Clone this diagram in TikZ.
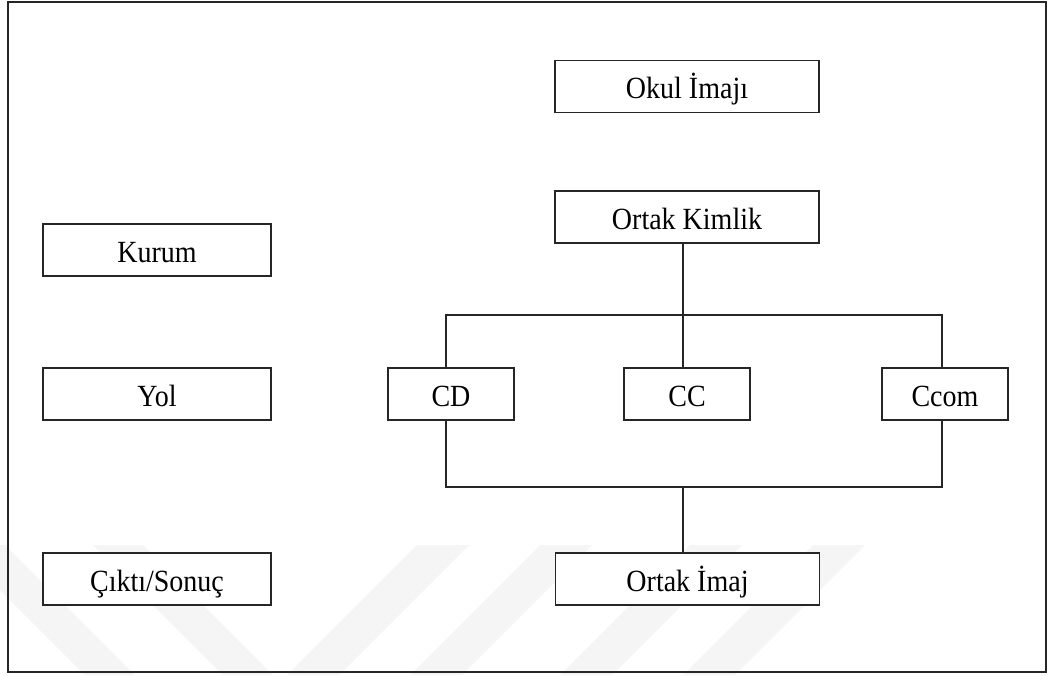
\documentclass[tikz,border=0pt]{standalone}
\usepackage{graphicx}
\usepackage{fontspec}
\setmainfont{Liberation Serif}
\newcommand{\tall}[1]{\scalebox{1}[1.1]{#1}}
\begin{document}
\begin{tikzpicture}[x=0.75pt,y=-0.75pt,
  box/.style={draw=black!85,line width=1.1pt,fill=white,inner sep=0pt,
    font=\fontsize{21pt}{25pt}\selectfont,text height=21.5pt,text depth=3pt,
    minimum height=39pt},
  wide/.style={box,minimum width=198pt},
  side/.style={box,minimum width=171pt},
  small/.style={box,minimum width=94.5pt},
  conn/.style={draw=black!85,line width=1.1pt},
  wm/.style={fill=black!4,draw=none}]
\useasboundingbox (0,0) rectangle (1049,675);
\fill[white] (0,0) rectangle (1049,675);
% watermark
\begin{scope}
\clip (0,0) rectangle (1049,675);
\fill[wm] (-45,545) -- (5,545) -- (135,675) -- (85,675) -- cycle;
\fill[wm] (93,545) -- (143,545) -- (273,675) -- (223,675) -- cycle;
\foreach \a in {417,540,690,813}{
  \fill[wm] (\a,545) -- (\a+52,545) -- (\a-78,675) -- (\a-130,675) -- cycle;}
\end{scope}
% frame
\draw[draw=black!85,line width=1.6pt] (8,2) rectangle (1046,672);
% nodes
\node[wide] (okul) at (687,86.5) {\tall{Okul İmajı}};
\node[wide] (kimlik) at (687,217) {\tall{Ortak Kimlik}};
\node[side] (kurum) at (157,250) {\tall{Kurum}};
\node[side] (yol) at (157,394) {\tall{Yol}};
\node[side] (cikti) at (157,579) {\tall{Çıktı/Sonuç}};
\node[small] (cd) at (451,394) {\tall{CD}};
\node[small] (cc) at (687,394) {\tall{CC}};
\node[small] (ccom) at (945,394) {\tall{Ccom}};
\node[wide] (imaj) at (687.5,579) {\tall{Ortak İmaj}};
% connector guides
\coordinate (xl) at (446,0);
\coordinate (xm) at (683,0);
\coordinate (xr) at (942,0);
\coordinate (top) at (0,315);
\coordinate (bot) at (0,487);
\draw[conn] (kimlik.south -| xm) -- (cc.north -| xm);
\draw[conn] (cd.north -| xl) -- (xl |- top) -- (xr |- top) -- (ccom.north -| xr);
\draw[conn] (cd.south -| xl) -- (xl |- bot) -- (xr |- bot) -- (ccom.south -| xr);
\draw[conn] (xm |- bot) -- (imaj.north -| xm);
\end{tikzpicture}
\end{document}
